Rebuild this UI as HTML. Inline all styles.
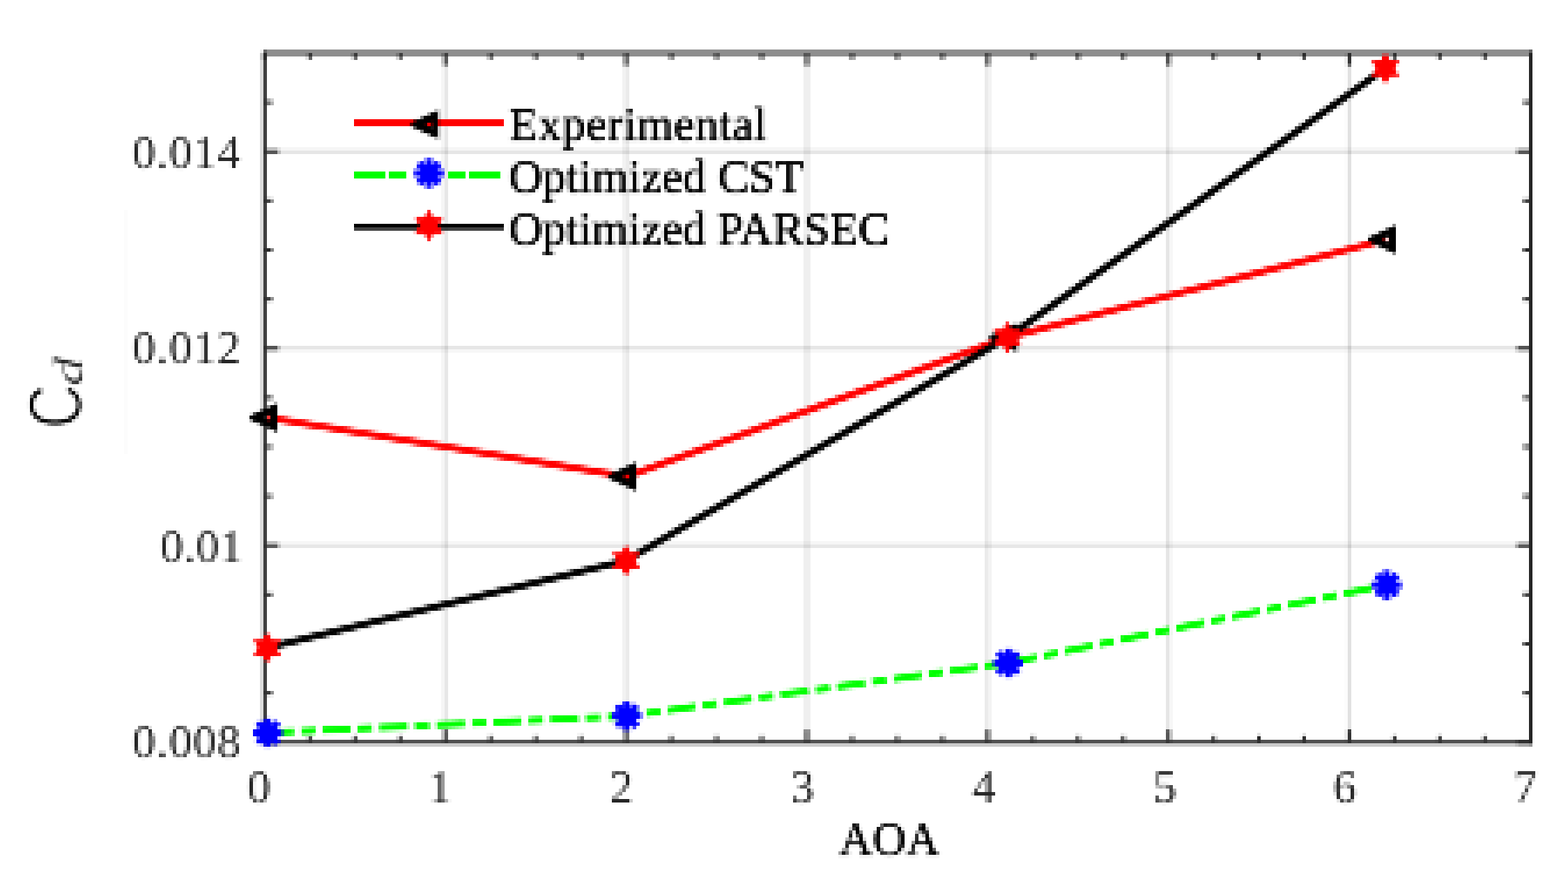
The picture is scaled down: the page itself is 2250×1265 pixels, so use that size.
<!DOCTYPE html>
<html lang="en"><head><meta charset="utf-8"><title>Cd vs AOA</title>
<style>
html,body{margin:0;padding:0;background:#fff;}
body{width:2250px;height:1265px;overflow:hidden;}
svg{display:block;}
text{font-family:"Liberation Serif","DejaVu Serif",serif;font-size:66.67px;}
.tk{fill:#262626;}
.lg{fill:#000;}
.xl{fill:#000;}
.yl{font-family:"Liberation Sans","DejaVu Sans",sans-serif;fill:#000;}
</style></head><body>
<svg width="2250" height="1265" viewBox="0 0 2250 1265">
<defs>
<filter id="pix" filterUnits="userSpaceOnUse" x="0" y="0" width="2250" height="1265" color-interpolation-filters="sRGB">
<feGaussianBlur in="SourceGraphic" stdDeviation="1.2" result="avg"/>
<feFlood flood-color="#000" x="5" y="3" width="1" height="1" result="dot"/>
<feOffset in="dot" dx="0" dy="0" x="3" y="1" width="5" height="5" result="cell"/>
<feTile in="cell" x="0" y="0" width="2250" height="1265" result="grid"/>
<feComposite in="avg" in2="grid" operator="in" result="samp"/>
<feMorphology in="samp" operator="dilate" radius="2" result="blk"/>
</filter>
</defs>
<rect x="0" y="0" width="2250" height="1265" fill="#ffffff"/>
<g id="frame" shape-rendering="crispEdges">
<g id="grid">
<rect x="633" y="76" width="5" height="985" fill="#262626" fill-opacity="0.039"/><rect x="633" y="1061" width="5" height="5" fill="#262626" fill-opacity="0.028"/><rect x="638" y="76" width="5" height="985" fill="#262626" fill-opacity="0.111"/><rect x="638" y="1061" width="5" height="5" fill="#262626" fill-opacity="0.080"/>
<rect x="893" y="76" width="5" height="985" fill="#262626" fill-opacity="0.058"/><rect x="893" y="1061" width="5" height="5" fill="#262626" fill-opacity="0.042"/><rect x="898" y="76" width="5" height="985" fill="#262626" fill-opacity="0.092"/><rect x="898" y="1061" width="5" height="5" fill="#262626" fill-opacity="0.066"/>
<rect x="1153" y="76" width="5" height="985" fill="#262626" fill-opacity="0.076"/><rect x="1153" y="1061" width="5" height="5" fill="#262626" fill-opacity="0.055"/><rect x="1158" y="76" width="5" height="985" fill="#262626" fill-opacity="0.074"/><rect x="1158" y="1061" width="5" height="5" fill="#262626" fill-opacity="0.053"/>
<rect x="1413" y="76" width="5" height="985" fill="#262626" fill-opacity="0.095"/><rect x="1413" y="1061" width="5" height="5" fill="#262626" fill-opacity="0.068"/><rect x="1418" y="76" width="5" height="985" fill="#262626" fill-opacity="0.055"/><rect x="1418" y="1061" width="5" height="5" fill="#262626" fill-opacity="0.040"/>
<rect x="1673" y="76" width="5" height="985" fill="#262626" fill-opacity="0.113"/><rect x="1673" y="1061" width="5" height="5" fill="#262626" fill-opacity="0.081"/><rect x="1678" y="76" width="5" height="985" fill="#262626" fill-opacity="0.037"/><rect x="1678" y="1061" width="5" height="5" fill="#262626" fill-opacity="0.027"/>
<rect x="1929" y="76" width="5" height="985" fill="#262626" fill-opacity="0.012"/><rect x="1929" y="1061" width="5" height="5" fill="#262626" fill-opacity="0.008"/><rect x="1934" y="76" width="5" height="985" fill="#262626" fill-opacity="0.138"/><rect x="1934" y="1061" width="5" height="5" fill="#262626" fill-opacity="0.100"/>
<rect x="378" y="776" width="5" height="5" fill="#262626" fill-opacity="0.026"/><rect x="378" y="781" width="5" height="5" fill="#262626" fill-opacity="0.070"/><rect x="383" y="776" width="1420" height="5" fill="#262626" fill-opacity="0.041"/><rect x="383" y="781" width="1420" height="5" fill="#262626" fill-opacity="0.109"/><rect x="1803" y="776" width="1" height="5" fill="#262626" fill-opacity="0.041"/><rect x="1803" y="781" width="1" height="5" fill="#262626" fill-opacity="0.109"/><rect x="1804" y="776" width="390" height="5" fill="#262626" fill-opacity="0.041"/><rect x="1804" y="781" width="390" height="5" fill="#262626" fill-opacity="0.109"/><rect x="2194" y="776" width="5" height="5" fill="#262626" fill-opacity="0.012"/><rect x="2194" y="781" width="5" height="5" fill="#262626" fill-opacity="0.033"/>
<rect x="378" y="496" width="5" height="5" fill="#262626" fill-opacity="0.073"/><rect x="378" y="501" width="5" height="5" fill="#262626" fill-opacity="0.023"/><rect x="383" y="496" width="1420" height="5" fill="#262626" fill-opacity="0.114"/><rect x="383" y="501" width="1420" height="5" fill="#262626" fill-opacity="0.036"/><rect x="1803" y="496" width="1" height="5" fill="#262626" fill-opacity="0.114"/><rect x="1803" y="501" width="1" height="5" fill="#262626" fill-opacity="0.036"/><rect x="1804" y="496" width="390" height="5" fill="#262626" fill-opacity="0.114"/><rect x="1804" y="501" width="390" height="5" fill="#262626" fill-opacity="0.036"/><rect x="2194" y="496" width="5" height="5" fill="#262626" fill-opacity="0.034"/><rect x="2194" y="501" width="5" height="5" fill="#262626" fill-opacity="0.011"/>
<rect x="378" y="211" width="5" height="5" fill="#262626" fill-opacity="0.024"/><rect x="378" y="216" width="5" height="5" fill="#262626" fill-opacity="0.072"/><rect x="383" y="211" width="1420" height="5" fill="#262626" fill-opacity="0.038"/><rect x="383" y="216" width="1420" height="5" fill="#262626" fill-opacity="0.112"/><rect x="1803" y="211" width="1" height="5" fill="#262626" fill-opacity="0.038"/><rect x="1803" y="216" width="1" height="5" fill="#262626" fill-opacity="0.112"/><rect x="1804" y="211" width="390" height="5" fill="#262626" fill-opacity="0.038"/><rect x="1804" y="216" width="390" height="5" fill="#262626" fill-opacity="0.112"/><rect x="2194" y="211" width="5" height="5" fill="#262626" fill-opacity="0.011"/><rect x="2194" y="216" width="5" height="5" fill="#262626" fill-opacity="0.034"/>
</g>
<g id="axes">
<rect x="378" y="71" width="1425" height="10" fill="#262626" fill-opacity="0.520"/><rect x="1803" y="71" width="1" height="10" fill="#262626" fill-opacity="0.520"/><rect x="1804" y="71" width="395" height="10" fill="#262626" fill-opacity="0.520"/>
<rect x="378" y="1061" width="1425" height="5" fill="#262626" fill-opacity="0.799"/><rect x="378" y="1066" width="1425" height="5" fill="#262626" fill-opacity="0.241"/><rect x="1803" y="1061" width="1" height="5" fill="#262626" fill-opacity="0.799"/><rect x="1803" y="1066" width="1" height="5" fill="#262626" fill-opacity="0.241"/><rect x="1804" y="1061" width="395" height="5" fill="#262626" fill-opacity="0.799"/><rect x="1804" y="1066" width="395" height="5" fill="#262626" fill-opacity="0.241"/>
<rect x="373" y="71" width="5" height="5" fill="#262626" fill-opacity="0.067"/><rect x="373" y="76" width="5" height="990" fill="#262626" fill-opacity="0.160"/><rect x="373" y="1066" width="5" height="5" fill="#262626" fill-opacity="0.038"/><rect x="378" y="71" width="5" height="5" fill="#262626" fill-opacity="0.370"/><rect x="378" y="76" width="5" height="990" fill="#262626" fill-opacity="0.880"/><rect x="378" y="1066" width="5" height="5" fill="#262626" fill-opacity="0.212"/>
<rect x="2194" y="71" width="5" height="5" fill="#262626" fill-opacity="0.420"/><rect x="2194" y="76" width="5" height="990" fill="#262626"/><rect x="2194" y="1066" width="5" height="5" fill="#262626" fill-opacity="0.241"/>
</g>
<g id="ticks">
<rect x="438" y="76" width="5" height="5" fill="#262626" fill-opacity="0.171"/><rect x="438" y="81" width="5" height="5" fill="#262626" fill-opacity="0.147"/><rect x="443" y="76" width="5" height="5" fill="#262626" fill-opacity="0.829"/><rect x="443" y="81" width="5" height="5" fill="#262626" fill-opacity="0.713"/>
<rect x="438" y="1051" width="5" height="5" fill="#262626" fill-opacity="0.024"/><rect x="438" y="1056" width="5" height="5" fill="#262626" fill-opacity="0.171"/><rect x="438" y="1061" width="5" height="5" fill="#262626" fill-opacity="0.123"/><rect x="443" y="1051" width="5" height="5" fill="#262626" fill-opacity="0.116"/><rect x="443" y="1056" width="5" height="5" fill="#262626" fill-opacity="0.829"/><rect x="443" y="1061" width="5" height="5" fill="#262626" fill-opacity="0.598"/>
<rect x="503" y="76" width="5" height="5" fill="#262626" fill-opacity="0.201"/><rect x="503" y="81" width="5" height="5" fill="#262626" fill-opacity="0.173"/><rect x="508" y="76" width="5" height="5" fill="#262626" fill-opacity="0.799"/><rect x="508" y="81" width="5" height="5" fill="#262626" fill-opacity="0.687"/>
<rect x="503" y="1051" width="5" height="5" fill="#262626" fill-opacity="0.028"/><rect x="503" y="1056" width="5" height="5" fill="#262626" fill-opacity="0.201"/><rect x="503" y="1061" width="5" height="5" fill="#262626" fill-opacity="0.145"/><rect x="508" y="1051" width="5" height="5" fill="#262626" fill-opacity="0.111"/><rect x="508" y="1056" width="5" height="5" fill="#262626" fill-opacity="0.799"/><rect x="508" y="1061" width="5" height="5" fill="#262626" fill-opacity="0.575"/>
<rect x="568" y="76" width="5" height="5" fill="#262626" fill-opacity="0.232"/><rect x="568" y="81" width="5" height="5" fill="#262626" fill-opacity="0.200"/><rect x="573" y="76" width="5" height="5" fill="#262626" fill-opacity="0.768"/><rect x="573" y="81" width="5" height="5" fill="#262626" fill-opacity="0.660"/>
<rect x="568" y="1051" width="5" height="5" fill="#262626" fill-opacity="0.032"/><rect x="568" y="1056" width="5" height="5" fill="#262626" fill-opacity="0.232"/><rect x="568" y="1061" width="5" height="5" fill="#262626" fill-opacity="0.167"/><rect x="573" y="1051" width="5" height="5" fill="#262626" fill-opacity="0.107"/><rect x="573" y="1056" width="5" height="5" fill="#262626" fill-opacity="0.768"/><rect x="573" y="1061" width="5" height="5" fill="#262626" fill-opacity="0.553"/>
<rect x="633" y="76" width="5" height="15" fill="#262626" fill-opacity="0.263"/><rect x="633" y="91" width="5" height="5" fill="#262626" fill-opacity="0.173"/><rect x="638" y="76" width="5" height="15" fill="#262626" fill-opacity="0.737"/><rect x="638" y="91" width="5" height="5" fill="#262626" fill-opacity="0.487"/>
<rect x="633" y="1046" width="5" height="5" fill="#262626" fill-opacity="0.247"/><rect x="633" y="1051" width="5" height="10" fill="#262626" fill-opacity="0.263"/><rect x="633" y="1061" width="5" height="5" fill="#262626" fill-opacity="0.189"/><rect x="638" y="1046" width="5" height="5" fill="#262626" fill-opacity="0.693"/><rect x="638" y="1051" width="5" height="10" fill="#262626" fill-opacity="0.737"/><rect x="638" y="1061" width="5" height="5" fill="#262626" fill-opacity="0.531"/>
<rect x="698" y="76" width="5" height="5" fill="#262626" fill-opacity="0.293"/><rect x="698" y="81" width="5" height="5" fill="#262626" fill-opacity="0.252"/><rect x="703" y="76" width="5" height="5" fill="#262626" fill-opacity="0.707"/><rect x="703" y="81" width="5" height="5" fill="#262626" fill-opacity="0.608"/>
<rect x="698" y="1051" width="5" height="5" fill="#262626" fill-opacity="0.041"/><rect x="698" y="1056" width="5" height="5" fill="#262626" fill-opacity="0.293"/><rect x="698" y="1061" width="5" height="5" fill="#262626" fill-opacity="0.211"/><rect x="703" y="1051" width="5" height="5" fill="#262626" fill-opacity="0.098"/><rect x="703" y="1056" width="5" height="5" fill="#262626" fill-opacity="0.707"/><rect x="703" y="1061" width="5" height="5" fill="#262626" fill-opacity="0.509"/>
<rect x="763" y="76" width="5" height="5" fill="#262626" fill-opacity="0.324"/><rect x="763" y="81" width="5" height="5" fill="#262626" fill-opacity="0.279"/><rect x="768" y="76" width="5" height="5" fill="#262626" fill-opacity="0.676"/><rect x="768" y="81" width="5" height="5" fill="#262626" fill-opacity="0.581"/>
<rect x="763" y="1051" width="5" height="5" fill="#262626" fill-opacity="0.045"/><rect x="763" y="1056" width="5" height="5" fill="#262626" fill-opacity="0.324"/><rect x="763" y="1061" width="5" height="5" fill="#262626" fill-opacity="0.234"/><rect x="768" y="1051" width="5" height="5" fill="#262626" fill-opacity="0.094"/><rect x="768" y="1056" width="5" height="5" fill="#262626" fill-opacity="0.676"/><rect x="768" y="1061" width="5" height="5" fill="#262626" fill-opacity="0.487"/>
<rect x="828" y="76" width="5" height="5" fill="#262626" fill-opacity="0.355"/><rect x="828" y="81" width="5" height="5" fill="#262626" fill-opacity="0.305"/><rect x="833" y="76" width="5" height="5" fill="#262626" fill-opacity="0.645"/><rect x="833" y="81" width="5" height="5" fill="#262626" fill-opacity="0.555"/>
<rect x="828" y="1051" width="5" height="5" fill="#262626" fill-opacity="0.049"/><rect x="828" y="1056" width="5" height="5" fill="#262626" fill-opacity="0.355"/><rect x="828" y="1061" width="5" height="5" fill="#262626" fill-opacity="0.256"/><rect x="833" y="1051" width="5" height="5" fill="#262626" fill-opacity="0.090"/><rect x="833" y="1056" width="5" height="5" fill="#262626" fill-opacity="0.645"/><rect x="833" y="1061" width="5" height="5" fill="#262626" fill-opacity="0.465"/>
<rect x="893" y="76" width="5" height="15" fill="#262626" fill-opacity="0.386"/><rect x="893" y="91" width="5" height="5" fill="#262626" fill-opacity="0.254"/><rect x="898" y="76" width="5" height="15" fill="#262626" fill-opacity="0.614"/><rect x="898" y="91" width="5" height="5" fill="#262626" fill-opacity="0.406"/>
<rect x="893" y="1046" width="5" height="5" fill="#262626" fill-opacity="0.362"/><rect x="893" y="1051" width="5" height="10" fill="#262626" fill-opacity="0.386"/><rect x="893" y="1061" width="5" height="5" fill="#262626" fill-opacity="0.278"/><rect x="898" y="1046" width="5" height="5" fill="#262626" fill-opacity="0.577"/><rect x="898" y="1051" width="5" height="10" fill="#262626" fill-opacity="0.614"/><rect x="898" y="1061" width="5" height="5" fill="#262626" fill-opacity="0.443"/>
<rect x="958" y="76" width="5" height="5" fill="#262626" fill-opacity="0.416"/><rect x="958" y="81" width="5" height="5" fill="#262626" fill-opacity="0.358"/><rect x="963" y="76" width="5" height="5" fill="#262626" fill-opacity="0.584"/><rect x="963" y="81" width="5" height="5" fill="#262626" fill-opacity="0.502"/>
<rect x="958" y="1051" width="5" height="5" fill="#262626" fill-opacity="0.058"/><rect x="958" y="1056" width="5" height="5" fill="#262626" fill-opacity="0.416"/><rect x="958" y="1061" width="5" height="5" fill="#262626" fill-opacity="0.300"/><rect x="963" y="1051" width="5" height="5" fill="#262626" fill-opacity="0.081"/><rect x="963" y="1056" width="5" height="5" fill="#262626" fill-opacity="0.584"/><rect x="963" y="1061" width="5" height="5" fill="#262626" fill-opacity="0.421"/>
<rect x="1023" y="76" width="5" height="5" fill="#262626" fill-opacity="0.447"/><rect x="1023" y="81" width="5" height="5" fill="#262626" fill-opacity="0.384"/><rect x="1028" y="76" width="5" height="5" fill="#262626" fill-opacity="0.553"/><rect x="1028" y="81" width="5" height="5" fill="#262626" fill-opacity="0.476"/>
<rect x="1023" y="1051" width="5" height="5" fill="#262626" fill-opacity="0.062"/><rect x="1023" y="1056" width="5" height="5" fill="#262626" fill-opacity="0.447"/><rect x="1023" y="1061" width="5" height="5" fill="#262626" fill-opacity="0.322"/><rect x="1028" y="1051" width="5" height="5" fill="#262626" fill-opacity="0.077"/><rect x="1028" y="1056" width="5" height="5" fill="#262626" fill-opacity="0.553"/><rect x="1028" y="1061" width="5" height="5" fill="#262626" fill-opacity="0.398"/>
<rect x="1088" y="76" width="5" height="5" fill="#262626" fill-opacity="0.478"/><rect x="1088" y="81" width="5" height="5" fill="#262626" fill-opacity="0.411"/><rect x="1093" y="76" width="5" height="5" fill="#262626" fill-opacity="0.522"/><rect x="1093" y="81" width="5" height="5" fill="#262626" fill-opacity="0.449"/>
<rect x="1088" y="1051" width="5" height="5" fill="#262626" fill-opacity="0.067"/><rect x="1088" y="1056" width="5" height="5" fill="#262626" fill-opacity="0.478"/><rect x="1088" y="1061" width="5" height="5" fill="#262626" fill-opacity="0.344"/><rect x="1093" y="1051" width="5" height="5" fill="#262626" fill-opacity="0.073"/><rect x="1093" y="1056" width="5" height="5" fill="#262626" fill-opacity="0.522"/><rect x="1093" y="1061" width="5" height="5" fill="#262626" fill-opacity="0.376"/>
<rect x="1153" y="76" width="5" height="15" fill="#262626" fill-opacity="0.508"/><rect x="1153" y="91" width="5" height="5" fill="#262626" fill-opacity="0.336"/><rect x="1158" y="76" width="5" height="15" fill="#262626" fill-opacity="0.492"/><rect x="1158" y="91" width="5" height="5" fill="#262626" fill-opacity="0.324"/>
<rect x="1153" y="1046" width="5" height="5" fill="#262626" fill-opacity="0.478"/><rect x="1153" y="1051" width="5" height="10" fill="#262626" fill-opacity="0.508"/><rect x="1153" y="1061" width="5" height="5" fill="#262626" fill-opacity="0.366"/><rect x="1158" y="1046" width="5" height="5" fill="#262626" fill-opacity="0.462"/><rect x="1158" y="1051" width="5" height="10" fill="#262626" fill-opacity="0.492"/><rect x="1158" y="1061" width="5" height="5" fill="#262626" fill-opacity="0.354"/>
<rect x="1218" y="76" width="5" height="5" fill="#262626" fill-opacity="0.539"/><rect x="1218" y="81" width="5" height="5" fill="#262626" fill-opacity="0.464"/><rect x="1223" y="76" width="5" height="5" fill="#262626" fill-opacity="0.461"/><rect x="1223" y="81" width="5" height="5" fill="#262626" fill-opacity="0.396"/>
<rect x="1218" y="1051" width="5" height="5" fill="#262626" fill-opacity="0.075"/><rect x="1218" y="1056" width="5" height="5" fill="#262626" fill-opacity="0.539"/><rect x="1218" y="1061" width="5" height="5" fill="#262626" fill-opacity="0.388"/><rect x="1223" y="1051" width="5" height="5" fill="#262626" fill-opacity="0.064"/><rect x="1223" y="1056" width="5" height="5" fill="#262626" fill-opacity="0.461"/><rect x="1223" y="1061" width="5" height="5" fill="#262626" fill-opacity="0.332"/>
<rect x="1283" y="76" width="5" height="5" fill="#262626" fill-opacity="0.570"/><rect x="1283" y="81" width="5" height="5" fill="#262626" fill-opacity="0.490"/><rect x="1288" y="76" width="5" height="5" fill="#262626" fill-opacity="0.430"/><rect x="1288" y="81" width="5" height="5" fill="#262626" fill-opacity="0.370"/>
<rect x="1283" y="1051" width="5" height="5" fill="#262626" fill-opacity="0.079"/><rect x="1283" y="1056" width="5" height="5" fill="#262626" fill-opacity="0.570"/><rect x="1283" y="1061" width="5" height="5" fill="#262626" fill-opacity="0.411"/><rect x="1288" y="1051" width="5" height="5" fill="#262626" fill-opacity="0.060"/><rect x="1288" y="1056" width="5" height="5" fill="#262626" fill-opacity="0.430"/><rect x="1288" y="1061" width="5" height="5" fill="#262626" fill-opacity="0.310"/>
<rect x="1348" y="76" width="5" height="5" fill="#262626" fill-opacity="0.600"/><rect x="1348" y="81" width="5" height="5" fill="#262626" fill-opacity="0.516"/><rect x="1353" y="76" width="5" height="5" fill="#262626" fill-opacity="0.400"/><rect x="1353" y="81" width="5" height="5" fill="#262626" fill-opacity="0.344"/>
<rect x="1348" y="1051" width="5" height="5" fill="#262626" fill-opacity="0.084"/><rect x="1348" y="1056" width="5" height="5" fill="#262626" fill-opacity="0.600"/><rect x="1348" y="1061" width="5" height="5" fill="#262626" fill-opacity="0.433"/><rect x="1353" y="1051" width="5" height="5" fill="#262626" fill-opacity="0.056"/><rect x="1353" y="1056" width="5" height="5" fill="#262626" fill-opacity="0.400"/><rect x="1353" y="1061" width="5" height="5" fill="#262626" fill-opacity="0.288"/>
<rect x="1413" y="76" width="5" height="15" fill="#262626" fill-opacity="0.631"/><rect x="1413" y="91" width="5" height="5" fill="#262626" fill-opacity="0.417"/><rect x="1418" y="76" width="5" height="15" fill="#262626" fill-opacity="0.369"/><rect x="1418" y="91" width="5" height="5" fill="#262626" fill-opacity="0.243"/>
<rect x="1413" y="1046" width="5" height="5" fill="#262626" fill-opacity="0.593"/><rect x="1413" y="1051" width="5" height="10" fill="#262626" fill-opacity="0.631"/><rect x="1413" y="1061" width="5" height="5" fill="#262626" fill-opacity="0.455"/><rect x="1418" y="1046" width="5" height="5" fill="#262626" fill-opacity="0.346"/><rect x="1418" y="1051" width="5" height="10" fill="#262626" fill-opacity="0.369"/><rect x="1418" y="1061" width="5" height="5" fill="#262626" fill-opacity="0.266"/>
<rect x="1478" y="76" width="5" height="5" fill="#262626" fill-opacity="0.662"/><rect x="1478" y="81" width="5" height="5" fill="#262626" fill-opacity="0.569"/><rect x="1483" y="76" width="5" height="5" fill="#262626" fill-opacity="0.338"/><rect x="1483" y="81" width="5" height="5" fill="#262626" fill-opacity="0.291"/>
<rect x="1478" y="1051" width="5" height="5" fill="#262626" fill-opacity="0.092"/><rect x="1478" y="1056" width="5" height="5" fill="#262626" fill-opacity="0.662"/><rect x="1478" y="1061" width="5" height="5" fill="#262626" fill-opacity="0.477"/><rect x="1483" y="1051" width="5" height="5" fill="#262626" fill-opacity="0.047"/><rect x="1483" y="1056" width="5" height="5" fill="#262626" fill-opacity="0.338"/><rect x="1483" y="1061" width="5" height="5" fill="#262626" fill-opacity="0.244"/>
<rect x="1543" y="76" width="5" height="5" fill="#262626" fill-opacity="0.693"/><rect x="1543" y="81" width="5" height="5" fill="#262626" fill-opacity="0.596"/><rect x="1548" y="76" width="5" height="5" fill="#262626" fill-opacity="0.307"/><rect x="1548" y="81" width="5" height="5" fill="#262626" fill-opacity="0.264"/>
<rect x="1543" y="1051" width="5" height="5" fill="#262626" fill-opacity="0.097"/><rect x="1543" y="1056" width="5" height="5" fill="#262626" fill-opacity="0.693"/><rect x="1543" y="1061" width="5" height="5" fill="#262626" fill-opacity="0.499"/><rect x="1548" y="1051" width="5" height="5" fill="#262626" fill-opacity="0.043"/><rect x="1548" y="1056" width="5" height="5" fill="#262626" fill-opacity="0.307"/><rect x="1548" y="1061" width="5" height="5" fill="#262626" fill-opacity="0.222"/>
<rect x="1608" y="76" width="5" height="5" fill="#262626" fill-opacity="0.723"/><rect x="1608" y="81" width="5" height="5" fill="#262626" fill-opacity="0.622"/><rect x="1613" y="76" width="5" height="5" fill="#262626" fill-opacity="0.277"/><rect x="1613" y="81" width="5" height="5" fill="#262626" fill-opacity="0.238"/>
<rect x="1608" y="1051" width="5" height="5" fill="#262626" fill-opacity="0.101"/><rect x="1608" y="1056" width="5" height="5" fill="#262626" fill-opacity="0.723"/><rect x="1608" y="1061" width="5" height="5" fill="#262626" fill-opacity="0.521"/><rect x="1613" y="1051" width="5" height="5" fill="#262626" fill-opacity="0.039"/><rect x="1613" y="1056" width="5" height="5" fill="#262626" fill-opacity="0.277"/><rect x="1613" y="1061" width="5" height="5" fill="#262626" fill-opacity="0.199"/>
<rect x="1673" y="76" width="5" height="15" fill="#262626" fill-opacity="0.754"/><rect x="1673" y="91" width="5" height="5" fill="#262626" fill-opacity="0.498"/><rect x="1678" y="76" width="5" height="15" fill="#262626" fill-opacity="0.246"/><rect x="1678" y="91" width="5" height="5" fill="#262626" fill-opacity="0.162"/>
<rect x="1673" y="1046" width="5" height="5" fill="#262626" fill-opacity="0.708"/><rect x="1673" y="1051" width="5" height="10" fill="#262626" fill-opacity="0.754"/><rect x="1673" y="1061" width="5" height="5" fill="#262626" fill-opacity="0.543"/><rect x="1678" y="1046" width="5" height="5" fill="#262626" fill-opacity="0.231"/><rect x="1678" y="1051" width="5" height="10" fill="#262626" fill-opacity="0.246"/><rect x="1678" y="1061" width="5" height="5" fill="#262626" fill-opacity="0.177"/>
<rect x="1738" y="76" width="5" height="5" fill="#262626" fill-opacity="0.785"/><rect x="1738" y="81" width="5" height="5" fill="#262626" fill-opacity="0.675"/><rect x="1743" y="76" width="5" height="5" fill="#262626" fill-opacity="0.215"/><rect x="1743" y="81" width="5" height="5" fill="#262626" fill-opacity="0.185"/>
<rect x="1738" y="1051" width="5" height="5" fill="#262626" fill-opacity="0.109"/><rect x="1738" y="1056" width="5" height="5" fill="#262626" fill-opacity="0.785"/><rect x="1738" y="1061" width="5" height="5" fill="#262626" fill-opacity="0.565"/><rect x="1743" y="1051" width="5" height="5" fill="#262626" fill-opacity="0.030"/><rect x="1743" y="1056" width="5" height="5" fill="#262626" fill-opacity="0.215"/><rect x="1743" y="1061" width="5" height="5" fill="#262626" fill-opacity="0.155"/>
<rect x="1799" y="76" width="5" height="5" fill="#262626" fill-opacity="0.015"/><rect x="1799" y="81" width="5" height="5" fill="#262626" fill-opacity="0.013"/><rect x="1804" y="76" width="5" height="5" fill="#262626" fill-opacity="0.985"/><rect x="1804" y="81" width="5" height="5" fill="#262626" fill-opacity="0.847"/>
<rect x="1799" y="1056" width="5" height="5" fill="#262626" fill-opacity="0.015"/><rect x="1799" y="1061" width="5" height="5" fill="#262626" fill-opacity="0.011"/><rect x="1804" y="1051" width="5" height="5" fill="#262626" fill-opacity="0.137"/><rect x="1804" y="1056" width="5" height="5" fill="#262626" fill-opacity="0.985"/><rect x="1804" y="1061" width="5" height="5" fill="#262626" fill-opacity="0.710"/>
<rect x="1864" y="76" width="5" height="5" fill="#262626" fill-opacity="0.046"/><rect x="1864" y="81" width="5" height="5" fill="#262626" fill-opacity="0.040"/><rect x="1869" y="76" width="5" height="5" fill="#262626" fill-opacity="0.954"/><rect x="1869" y="81" width="5" height="5" fill="#262626" fill-opacity="0.820"/>
<rect x="1864" y="1051" width="5" height="5" fill="#262626" fill-opacity="0.006"/><rect x="1864" y="1056" width="5" height="5" fill="#262626" fill-opacity="0.046"/><rect x="1864" y="1061" width="5" height="5" fill="#262626" fill-opacity="0.033"/><rect x="1869" y="1051" width="5" height="5" fill="#262626" fill-opacity="0.133"/><rect x="1869" y="1056" width="5" height="5" fill="#262626" fill-opacity="0.954"/><rect x="1869" y="1061" width="5" height="5" fill="#262626" fill-opacity="0.687"/>
<rect x="1929" y="76" width="5" height="15" fill="#262626" fill-opacity="0.077"/><rect x="1929" y="91" width="5" height="5" fill="#262626" fill-opacity="0.051"/><rect x="1934" y="76" width="5" height="15" fill="#262626" fill-opacity="0.923"/><rect x="1934" y="91" width="5" height="5" fill="#262626" fill-opacity="0.609"/>
<rect x="1929" y="1046" width="5" height="5" fill="#262626" fill-opacity="0.072"/><rect x="1929" y="1051" width="5" height="10" fill="#262626" fill-opacity="0.077"/><rect x="1929" y="1061" width="5" height="5" fill="#262626" fill-opacity="0.055"/><rect x="1934" y="1046" width="5" height="5" fill="#262626" fill-opacity="0.867"/><rect x="1934" y="1051" width="5" height="10" fill="#262626" fill-opacity="0.923"/><rect x="1934" y="1061" width="5" height="5" fill="#262626" fill-opacity="0.665"/>
<rect x="1994" y="76" width="5" height="5" fill="#262626" fill-opacity="0.107"/><rect x="1994" y="81" width="5" height="5" fill="#262626" fill-opacity="0.092"/><rect x="1999" y="76" width="5" height="5" fill="#262626" fill-opacity="0.893"/><rect x="1999" y="81" width="5" height="5" fill="#262626" fill-opacity="0.768"/>
<rect x="1994" y="1051" width="5" height="5" fill="#262626" fill-opacity="0.015"/><rect x="1994" y="1056" width="5" height="5" fill="#262626" fill-opacity="0.107"/><rect x="1994" y="1061" width="5" height="5" fill="#262626" fill-opacity="0.077"/><rect x="1999" y="1051" width="5" height="5" fill="#262626" fill-opacity="0.124"/><rect x="1999" y="1056" width="5" height="5" fill="#262626" fill-opacity="0.893"/><rect x="1999" y="1061" width="5" height="5" fill="#262626" fill-opacity="0.643"/>
<rect x="2059" y="76" width="5" height="5" fill="#262626" fill-opacity="0.138"/><rect x="2059" y="81" width="5" height="5" fill="#262626" fill-opacity="0.119"/><rect x="2064" y="76" width="5" height="5" fill="#262626" fill-opacity="0.862"/><rect x="2064" y="81" width="5" height="5" fill="#262626" fill-opacity="0.741"/>
<rect x="2059" y="1051" width="5" height="5" fill="#262626" fill-opacity="0.019"/><rect x="2059" y="1056" width="5" height="5" fill="#262626" fill-opacity="0.138"/><rect x="2059" y="1061" width="5" height="5" fill="#262626" fill-opacity="0.100"/><rect x="2064" y="1051" width="5" height="5" fill="#262626" fill-opacity="0.120"/><rect x="2064" y="1056" width="5" height="5" fill="#262626" fill-opacity="0.862"/><rect x="2064" y="1061" width="5" height="5" fill="#262626" fill-opacity="0.621"/>
<rect x="2124" y="76" width="5" height="5" fill="#262626" fill-opacity="0.169"/><rect x="2124" y="81" width="5" height="5" fill="#262626" fill-opacity="0.145"/><rect x="2129" y="76" width="5" height="5" fill="#262626" fill-opacity="0.831"/><rect x="2129" y="81" width="5" height="5" fill="#262626" fill-opacity="0.715"/>
<rect x="2124" y="1051" width="5" height="5" fill="#262626" fill-opacity="0.024"/><rect x="2124" y="1056" width="5" height="5" fill="#262626" fill-opacity="0.169"/><rect x="2124" y="1061" width="5" height="5" fill="#262626" fill-opacity="0.122"/><rect x="2129" y="1051" width="5" height="5" fill="#262626" fill-opacity="0.116"/><rect x="2129" y="1056" width="5" height="5" fill="#262626" fill-opacity="0.831"/><rect x="2129" y="1061" width="5" height="5" fill="#262626" fill-opacity="0.599"/>
<rect x="378" y="1061" width="5" height="5" fill="#262626" fill-opacity="0.499"/><rect x="378" y="1066" width="5" height="5" fill="#262626" fill-opacity="0.141"/><rect x="383" y="1061" width="15" height="5" fill="#262626" fill-opacity="0.779"/><rect x="383" y="1066" width="15" height="5" fill="#262626" fill-opacity="0.221"/><rect x="398" y="1061" width="5" height="5" fill="#262626" fill-opacity="0.249"/><rect x="398" y="1066" width="5" height="5" fill="#262626" fill-opacity="0.071"/>
<rect x="2174" y="1061" width="5" height="5" fill="#262626" fill-opacity="0.359"/><rect x="2174" y="1066" width="5" height="5" fill="#262626" fill-opacity="0.101"/><rect x="2179" y="1061" width="15" height="5" fill="#262626" fill-opacity="0.779"/><rect x="2179" y="1066" width="15" height="5" fill="#262626" fill-opacity="0.221"/><rect x="2194" y="1061" width="5" height="5" fill="#262626" fill-opacity="0.390"/><rect x="2194" y="1066" width="5" height="5" fill="#262626" fill-opacity="0.110"/>
<rect x="378" y="991" width="5" height="5" fill="#262626" fill-opacity="0.577"/><rect x="378" y="996" width="5" height="5" fill="#262626" fill-opacity="0.063"/><rect x="383" y="991" width="5" height="5" fill="#262626" fill-opacity="0.902"/><rect x="383" y="996" width="5" height="5" fill="#262626" fill-opacity="0.098"/><rect x="388" y="991" width="5" height="5" fill="#262626" fill-opacity="0.505"/><rect x="388" y="996" width="5" height="5" fill="#262626" fill-opacity="0.055"/>
<rect x="2184" y="991" width="5" height="5" fill="#262626" fill-opacity="0.632"/><rect x="2184" y="996" width="5" height="5" fill="#262626" fill-opacity="0.068"/><rect x="2189" y="991" width="5" height="5" fill="#262626" fill-opacity="0.902"/><rect x="2189" y="996" width="5" height="5" fill="#262626" fill-opacity="0.098"/><rect x="2194" y="991" width="5" height="5" fill="#262626" fill-opacity="0.451"/><rect x="2194" y="996" width="5" height="5" fill="#262626" fill-opacity="0.049"/>
<rect x="378" y="916" width="5" height="5" fill="#262626" fill-opacity="0.016"/><rect x="378" y="921" width="5" height="5" fill="#262626" fill-opacity="0.624"/><rect x="383" y="916" width="5" height="5" fill="#262626" fill-opacity="0.025"/><rect x="383" y="921" width="5" height="5" fill="#262626" fill-opacity="0.975"/><rect x="388" y="916" width="5" height="5" fill="#262626" fill-opacity="0.014"/><rect x="388" y="921" width="5" height="5" fill="#262626" fill-opacity="0.546"/>
<rect x="2184" y="916" width="5" height="5" fill="#262626" fill-opacity="0.018"/><rect x="2184" y="921" width="5" height="5" fill="#262626" fill-opacity="0.682"/><rect x="2189" y="916" width="5" height="5" fill="#262626" fill-opacity="0.025"/><rect x="2189" y="921" width="5" height="5" fill="#262626" fill-opacity="0.975"/><rect x="2194" y="916" width="5" height="5" fill="#262626" fill-opacity="0.013"/><rect x="2194" y="921" width="5" height="5" fill="#262626" fill-opacity="0.487"/>
<rect x="378" y="846" width="5" height="5" fill="#262626" fill-opacity="0.095"/><rect x="378" y="851" width="5" height="5" fill="#262626" fill-opacity="0.545"/><rect x="383" y="846" width="5" height="5" fill="#262626" fill-opacity="0.148"/><rect x="383" y="851" width="5" height="5" fill="#262626" fill-opacity="0.852"/><rect x="388" y="846" width="5" height="5" fill="#262626" fill-opacity="0.083"/><rect x="388" y="851" width="5" height="5" fill="#262626" fill-opacity="0.477"/>
<rect x="2184" y="846" width="5" height="5" fill="#262626" fill-opacity="0.104"/><rect x="2184" y="851" width="5" height="5" fill="#262626" fill-opacity="0.596"/><rect x="2189" y="846" width="5" height="5" fill="#262626" fill-opacity="0.148"/><rect x="2189" y="851" width="5" height="5" fill="#262626" fill-opacity="0.852"/><rect x="2194" y="846" width="5" height="5" fill="#262626" fill-opacity="0.074"/><rect x="2194" y="851" width="5" height="5" fill="#262626" fill-opacity="0.426"/>
<rect x="378" y="776" width="5" height="5" fill="#262626" fill-opacity="0.173"/><rect x="378" y="781" width="5" height="5" fill="#262626" fill-opacity="0.467"/><rect x="383" y="776" width="15" height="5" fill="#262626" fill-opacity="0.271"/><rect x="383" y="781" width="15" height="5" fill="#262626" fill-opacity="0.729"/><rect x="398" y="776" width="5" height="5" fill="#262626" fill-opacity="0.087"/><rect x="398" y="781" width="5" height="5" fill="#262626" fill-opacity="0.233"/>
<rect x="2174" y="776" width="5" height="5" fill="#262626" fill-opacity="0.125"/><rect x="2174" y="781" width="5" height="5" fill="#262626" fill-opacity="0.335"/><rect x="2179" y="776" width="15" height="5" fill="#262626" fill-opacity="0.271"/><rect x="2179" y="781" width="15" height="5" fill="#262626" fill-opacity="0.729"/><rect x="2194" y="776" width="5" height="5" fill="#262626" fill-opacity="0.136"/><rect x="2194" y="781" width="5" height="5" fill="#262626" fill-opacity="0.364"/>
<rect x="378" y="706" width="5" height="5" fill="#262626" fill-opacity="0.252"/><rect x="378" y="711" width="5" height="5" fill="#262626" fill-opacity="0.388"/><rect x="383" y="706" width="5" height="5" fill="#262626" fill-opacity="0.394"/><rect x="383" y="711" width="5" height="5" fill="#262626" fill-opacity="0.606"/><rect x="388" y="706" width="5" height="5" fill="#262626" fill-opacity="0.221"/><rect x="388" y="711" width="5" height="5" fill="#262626" fill-opacity="0.339"/>
<rect x="2184" y="706" width="5" height="5" fill="#262626" fill-opacity="0.276"/><rect x="2184" y="711" width="5" height="5" fill="#262626" fill-opacity="0.424"/><rect x="2189" y="706" width="5" height="5" fill="#262626" fill-opacity="0.394"/><rect x="2189" y="711" width="5" height="5" fill="#262626" fill-opacity="0.606"/><rect x="2194" y="706" width="5" height="5" fill="#262626" fill-opacity="0.197"/><rect x="2194" y="711" width="5" height="5" fill="#262626" fill-opacity="0.303"/>
<rect x="378" y="636" width="5" height="5" fill="#262626" fill-opacity="0.331"/><rect x="378" y="641" width="5" height="5" fill="#262626" fill-opacity="0.309"/><rect x="383" y="636" width="5" height="5" fill="#262626" fill-opacity="0.517"/><rect x="383" y="641" width="5" height="5" fill="#262626" fill-opacity="0.483"/><rect x="388" y="636" width="5" height="5" fill="#262626" fill-opacity="0.289"/><rect x="388" y="641" width="5" height="5" fill="#262626" fill-opacity="0.271"/>
<rect x="2184" y="636" width="5" height="5" fill="#262626" fill-opacity="0.362"/><rect x="2184" y="641" width="5" height="5" fill="#262626" fill-opacity="0.338"/><rect x="2189" y="636" width="5" height="5" fill="#262626" fill-opacity="0.517"/><rect x="2189" y="641" width="5" height="5" fill="#262626" fill-opacity="0.483"/><rect x="2194" y="636" width="5" height="5" fill="#262626" fill-opacity="0.258"/><rect x="2194" y="641" width="5" height="5" fill="#262626" fill-opacity="0.242"/>
<rect x="378" y="566" width="5" height="5" fill="#262626" fill-opacity="0.409"/><rect x="378" y="571" width="5" height="5" fill="#262626" fill-opacity="0.231"/><rect x="383" y="566" width="5" height="5" fill="#262626" fill-opacity="0.640"/><rect x="383" y="571" width="5" height="5" fill="#262626" fill-opacity="0.360"/><rect x="388" y="566" width="5" height="5" fill="#262626" fill-opacity="0.358"/><rect x="388" y="571" width="5" height="5" fill="#262626" fill-opacity="0.202"/>
<rect x="2184" y="566" width="5" height="5" fill="#262626" fill-opacity="0.448"/><rect x="2184" y="571" width="5" height="5" fill="#262626" fill-opacity="0.252"/><rect x="2189" y="566" width="5" height="5" fill="#262626" fill-opacity="0.640"/><rect x="2189" y="571" width="5" height="5" fill="#262626" fill-opacity="0.360"/><rect x="2194" y="566" width="5" height="5" fill="#262626" fill-opacity="0.320"/><rect x="2194" y="571" width="5" height="5" fill="#262626" fill-opacity="0.180"/>
<rect x="378" y="496" width="5" height="5" fill="#262626" fill-opacity="0.488"/><rect x="378" y="501" width="5" height="5" fill="#262626" fill-opacity="0.152"/><rect x="383" y="496" width="15" height="5" fill="#262626" fill-opacity="0.763"/><rect x="383" y="501" width="15" height="5" fill="#262626" fill-opacity="0.237"/><rect x="398" y="496" width="5" height="5" fill="#262626" fill-opacity="0.244"/><rect x="398" y="501" width="5" height="5" fill="#262626" fill-opacity="0.076"/>
<rect x="2174" y="496" width="5" height="5" fill="#262626" fill-opacity="0.351"/><rect x="2174" y="501" width="5" height="5" fill="#262626" fill-opacity="0.109"/><rect x="2179" y="496" width="15" height="5" fill="#262626" fill-opacity="0.763"/><rect x="2179" y="501" width="15" height="5" fill="#262626" fill-opacity="0.237"/><rect x="2194" y="496" width="5" height="5" fill="#262626" fill-opacity="0.381"/><rect x="2194" y="501" width="5" height="5" fill="#262626" fill-opacity="0.119"/>
<rect x="378" y="426" width="5" height="5" fill="#262626" fill-opacity="0.567"/><rect x="378" y="431" width="5" height="5" fill="#262626" fill-opacity="0.073"/><rect x="383" y="426" width="5" height="5" fill="#262626" fill-opacity="0.886"/><rect x="383" y="431" width="5" height="5" fill="#262626" fill-opacity="0.114"/><rect x="388" y="426" width="5" height="5" fill="#262626" fill-opacity="0.496"/><rect x="388" y="431" width="5" height="5" fill="#262626" fill-opacity="0.064"/>
<rect x="2184" y="426" width="5" height="5" fill="#262626" fill-opacity="0.620"/><rect x="2184" y="431" width="5" height="5" fill="#262626" fill-opacity="0.080"/><rect x="2189" y="426" width="5" height="5" fill="#262626" fill-opacity="0.886"/><rect x="2189" y="431" width="5" height="5" fill="#262626" fill-opacity="0.114"/><rect x="2194" y="426" width="5" height="5" fill="#262626" fill-opacity="0.443"/><rect x="2194" y="431" width="5" height="5" fill="#262626" fill-opacity="0.057"/>
<rect x="378" y="351" width="5" height="5" fill="#262626" fill-opacity="0.005"/><rect x="378" y="356" width="5" height="5" fill="#262626" fill-opacity="0.635"/><rect x="383" y="351" width="5" height="5" fill="#262626" fill-opacity="0.008"/><rect x="383" y="356" width="5" height="5" fill="#262626" fill-opacity="0.992"/><rect x="388" y="351" width="5" height="5" fill="#262626" fill-opacity="0.005"/><rect x="388" y="356" width="5" height="5" fill="#262626" fill-opacity="0.555"/>
<rect x="2184" y="351" width="5" height="5" fill="#262626" fill-opacity="0.006"/><rect x="2184" y="356" width="5" height="5" fill="#262626" fill-opacity="0.694"/><rect x="2189" y="351" width="5" height="5" fill="#262626" fill-opacity="0.008"/><rect x="2189" y="356" width="5" height="5" fill="#262626" fill-opacity="0.992"/><rect x="2194" y="351" width="5" height="5" fill="#262626" fill-opacity="0.004"/><rect x="2194" y="356" width="5" height="5" fill="#262626" fill-opacity="0.496"/>
<rect x="378" y="281" width="5" height="5" fill="#262626" fill-opacity="0.084"/><rect x="378" y="286" width="5" height="5" fill="#262626" fill-opacity="0.556"/><rect x="383" y="281" width="5" height="5" fill="#262626" fill-opacity="0.131"/><rect x="383" y="286" width="5" height="5" fill="#262626" fill-opacity="0.869"/><rect x="388" y="281" width="5" height="5" fill="#262626" fill-opacity="0.074"/><rect x="388" y="286" width="5" height="5" fill="#262626" fill-opacity="0.486"/>
<rect x="2184" y="281" width="5" height="5" fill="#262626" fill-opacity="0.092"/><rect x="2184" y="286" width="5" height="5" fill="#262626" fill-opacity="0.608"/><rect x="2189" y="281" width="5" height="5" fill="#262626" fill-opacity="0.131"/><rect x="2189" y="286" width="5" height="5" fill="#262626" fill-opacity="0.869"/><rect x="2194" y="281" width="5" height="5" fill="#262626" fill-opacity="0.066"/><rect x="2194" y="286" width="5" height="5" fill="#262626" fill-opacity="0.434"/>
<rect x="378" y="211" width="5" height="5" fill="#262626" fill-opacity="0.163"/><rect x="378" y="216" width="5" height="5" fill="#262626" fill-opacity="0.477"/><rect x="383" y="211" width="15" height="5" fill="#262626" fill-opacity="0.254"/><rect x="383" y="216" width="15" height="5" fill="#262626" fill-opacity="0.746"/><rect x="398" y="211" width="5" height="5" fill="#262626" fill-opacity="0.081"/><rect x="398" y="216" width="5" height="5" fill="#262626" fill-opacity="0.239"/>
<rect x="2174" y="211" width="5" height="5" fill="#262626" fill-opacity="0.117"/><rect x="2174" y="216" width="5" height="5" fill="#262626" fill-opacity="0.343"/><rect x="2179" y="211" width="15" height="5" fill="#262626" fill-opacity="0.254"/><rect x="2179" y="216" width="15" height="5" fill="#262626" fill-opacity="0.746"/><rect x="2194" y="211" width="5" height="5" fill="#262626" fill-opacity="0.127"/><rect x="2194" y="216" width="5" height="5" fill="#262626" fill-opacity="0.373"/>
<rect x="378" y="141" width="5" height="5" fill="#262626" fill-opacity="0.241"/><rect x="378" y="146" width="5" height="5" fill="#262626" fill-opacity="0.399"/><rect x="383" y="141" width="5" height="5" fill="#262626" fill-opacity="0.377"/><rect x="383" y="146" width="5" height="5" fill="#262626" fill-opacity="0.623"/><rect x="388" y="141" width="5" height="5" fill="#262626" fill-opacity="0.211"/><rect x="388" y="146" width="5" height="5" fill="#262626" fill-opacity="0.349"/>
<rect x="2184" y="141" width="5" height="5" fill="#262626" fill-opacity="0.264"/><rect x="2184" y="146" width="5" height="5" fill="#262626" fill-opacity="0.436"/><rect x="2189" y="141" width="5" height="5" fill="#262626" fill-opacity="0.377"/><rect x="2189" y="146" width="5" height="5" fill="#262626" fill-opacity="0.623"/><rect x="2194" y="141" width="5" height="5" fill="#262626" fill-opacity="0.189"/><rect x="2194" y="146" width="5" height="5" fill="#262626" fill-opacity="0.311"/>
<rect x="373" y="76" width="5" height="10" fill="#262626" fill-opacity="0.140"/><rect x="378" y="76" width="5" height="10" fill="#262626" fill-opacity="0.860"/>
</g>
<rect x="178" y="301" width="5" height="350" fill="#fcfcfc"/>
<g id="legend-lines">
<rect x="508" y="171" width="215" height="10" fill="#ff0000"/>
<rect x="508" y="246" width="45" height="10" fill="#00ff00"/>
<rect x="558" y="246" width="25" height="10" fill="#00ff00"/>
<rect x="643" y="246" width="25" height="10" fill="#00ff00"/>
<rect x="673" y="246" width="45" height="10" fill="#00ff00"/>
<rect x="508" y="321" width="215" height="5" fill="#000000"/><rect x="508" y="326" width="215" height="5" fill="#000000" fill-opacity="0.740"/>
</g>
</g>
<g id="figure" filter="url(#pix)">
<g id="series">
<polyline points="384.5,599.0 899.5,683.5 1446.0,484.0 1989.5,343.5" fill="none" stroke="#ff0000" stroke-width="10" stroke-linejoin="round" />
<path d="M358.5,596.0 L398.0,578.0 L398.0,620.0 L358.5,602.0 Z M379.4,599.0 L388.2,603.7 L388.2,594.3 Z" fill="#000" fill-rule="evenodd"/>
<path d="M873.5,680.5 L913.0,662.5 L913.0,704.5 L873.5,686.5 Z M894.4,683.5 L903.2,688.2 L903.2,678.8 Z" fill="#000" fill-rule="evenodd"/>
<path d="M1420.0,481.0 L1459.5,463.0 L1459.5,505.0 L1420.0,487.0 Z M1440.9,484.0 L1449.7,488.7 L1449.7,479.3 Z" fill="#000" fill-rule="evenodd"/>
<path d="M1963.5,340.5 L2003.0,322.5 L2003.0,364.5 L1963.5,346.5 Z M1984.4,343.5 L1993.2,348.2 L1993.2,338.8 Z" fill="#000" fill-rule="evenodd"/>
<polyline points="384.5,1051.0 899.5,1027.0" fill="none" stroke="#00ff00" stroke-width="10" stroke-linejoin="round" stroke-dasharray="40.5 10.4 20.5 10.4" stroke-dashoffset="3.3"/>
<polyline points="899.5,1027.0 1446.5,951.0" fill="none" stroke="#00ff00" stroke-width="10" stroke-linejoin="round" stroke-dasharray="40.5 10.4 20.5 10.4" stroke-dashoffset="22.7"/>
<polyline points="1446.5,951.0 1990.0,839.0" fill="none" stroke="#00ff00" stroke-width="10" stroke-linejoin="round" stroke-dasharray="40.5 10.4 20.5 10.4" stroke-dashoffset="80.4"/>
<circle cx="384.5" cy="1051.0" r="14.5" fill="#0000ff"/><line x1="363.5" y1="1051.0" x2="405.5" y2="1051.0" stroke="#0000ff" stroke-width="10"/><line x1="369.7" y1="1036.2" x2="399.3" y2="1065.8" stroke="#0000ff" stroke-width="10"/><line x1="384.5" y1="1030.0" x2="384.5" y2="1072.0" stroke="#0000ff" stroke-width="10"/><line x1="399.3" y1="1036.2" x2="369.7" y2="1065.8" stroke="#0000ff" stroke-width="10"/>
<circle cx="899.5" cy="1027.0" r="14.5" fill="#0000ff"/><line x1="878.5" y1="1027.0" x2="920.5" y2="1027.0" stroke="#0000ff" stroke-width="10"/><line x1="884.7" y1="1012.2" x2="914.3" y2="1041.8" stroke="#0000ff" stroke-width="10"/><line x1="899.5" y1="1006.0" x2="899.5" y2="1048.0" stroke="#0000ff" stroke-width="10"/><line x1="914.3" y1="1012.2" x2="884.7" y2="1041.8" stroke="#0000ff" stroke-width="10"/>
<circle cx="1446.5" cy="951.0" r="14.5" fill="#0000ff"/><line x1="1425.5" y1="951.0" x2="1467.5" y2="951.0" stroke="#0000ff" stroke-width="10"/><line x1="1431.7" y1="936.2" x2="1461.3" y2="965.8" stroke="#0000ff" stroke-width="10"/><line x1="1446.5" y1="930.0" x2="1446.5" y2="972.0" stroke="#0000ff" stroke-width="10"/><line x1="1461.3" y1="936.2" x2="1431.7" y2="965.8" stroke="#0000ff" stroke-width="10"/>
<circle cx="1990.0" cy="839.0" r="14.5" fill="#0000ff"/><line x1="1969.0" y1="839.0" x2="2011.0" y2="839.0" stroke="#0000ff" stroke-width="10"/><line x1="1975.2" y1="824.2" x2="2004.8" y2="853.8" stroke="#0000ff" stroke-width="10"/><line x1="1990.0" y1="818.0" x2="1990.0" y2="860.0" stroke="#0000ff" stroke-width="10"/><line x1="2004.8" y1="824.2" x2="1975.2" y2="853.8" stroke="#0000ff" stroke-width="10"/>
<polyline points="383.5,929.0 898.5,804.0 1445.5,484.0 1988.0,98.0" fill="none" stroke="#000000" stroke-width="10" stroke-linejoin="round" />
<polygon points="383.5,906.0 390.2,917.3 403.4,917.5 397.0,929.0 403.4,940.5 390.2,940.7 383.5,952.0 376.8,940.7 363.6,940.5 370.0,929.0 363.6,917.5 376.8,917.3" fill="#ff0000"/>
<polygon points="898.5,781.0 905.2,792.3 918.4,792.5 912.0,804.0 918.4,815.5 905.2,815.7 898.5,827.0 891.8,815.7 878.6,815.5 885.0,804.0 878.6,792.5 891.8,792.3" fill="#ff0000"/>
<polygon points="1445.5,461.0 1452.2,472.3 1465.4,472.5 1459.0,484.0 1465.4,495.5 1452.2,495.7 1445.5,507.0 1438.8,495.7 1425.6,495.5 1432.0,484.0 1425.6,472.5 1438.8,472.3" fill="#ff0000"/>
<polygon points="1988.0,75.0 1994.8,86.3 2007.9,86.5 2001.5,98.0 2007.9,109.5 1994.8,109.7 1988.0,121.0 1981.2,109.7 1968.1,109.5 1974.5,98.0 1968.1,86.5 1981.2,86.3" fill="#ff0000"/>
</g>
<g id="legend">
<path d="M590.0,175.5 L629.5,157.5 L629.5,199.5 L590.0,181.5 Z M610.9,178.5 L619.7,183.2 L619.7,173.8 Z" fill="#000" fill-rule="evenodd"/>
<circle cx="615.5" cy="248.5" r="14.5" fill="#0000ff"/><line x1="594.5" y1="248.5" x2="636.5" y2="248.5" stroke="#0000ff" stroke-width="10"/><line x1="600.7" y1="233.7" x2="630.3" y2="263.3" stroke="#0000ff" stroke-width="10"/><line x1="615.5" y1="227.5" x2="615.5" y2="269.5" stroke="#0000ff" stroke-width="10"/><line x1="630.3" y1="233.7" x2="600.7" y2="263.3" stroke="#0000ff" stroke-width="10"/>
<polygon points="615.5,300.5 622.2,311.8 635.4,312.0 629.0,323.5 635.4,335.0 622.2,335.2 615.5,346.5 608.8,335.2 595.6,335.0 602.0,323.5 595.6,312.0 608.8,311.8" fill="#ff0000"/>
<g class="lg" stroke="#000" stroke-width="1.2">
<text x="730.8" y="201" textLength="369.4" lengthAdjust="spacing">Experimental</text>
<text x="730.3" y="276" textLength="422.5" lengthAdjust="spacing">Optimized CST</text>
<text x="730.3" y="351" textLength="545.8" lengthAdjust="spacing">Optimized PARSEC</text>
</g>
</g>
<g id="ylabels" class="tk">
<text x="190" y="241" textLength="155" lengthAdjust="spacing">0.014</text>
<text x="190" y="521" textLength="155" lengthAdjust="spacing">0.012</text>
<text x="230" y="806" textLength="118.5" lengthAdjust="spacing">0.01</text>
<text x="190" y="1086" textLength="155" lengthAdjust="spacing">0.008</text>
</g>
<g id="xlabels" class="tk">
<text x="355" y="1151">0</text>
<text x="615" y="1151">1</text>
<text x="875" y="1151">2</text>
<text x="1135" y="1151">3</text>
<text x="1395" y="1151">4</text>
<text x="1655" y="1151">5</text>
<text x="1913" y="1151">6</text>
<text x="2172" y="1151">7</text>
</g>
<text class="xl" x="1204" y="1226" stroke="#000" stroke-width="0.8">AOA</text>
<g id="ylabel" transform="translate(116.5,614.5) rotate(-90)">
<text class="yl" x="0" y="0" style="font-size:107px" textLength="63" lengthAdjust="spacingAndGlyphs" stroke="#fff" stroke-width="2.5">C</text>
<text x="61" y="1" style="font-style:italic;font-size:60px" fill="#222" stroke="#fff" stroke-width="0.6" textLength="42" lengthAdjust="spacingAndGlyphs">d</text>
</g>
</g>
</svg>
</body></html>
